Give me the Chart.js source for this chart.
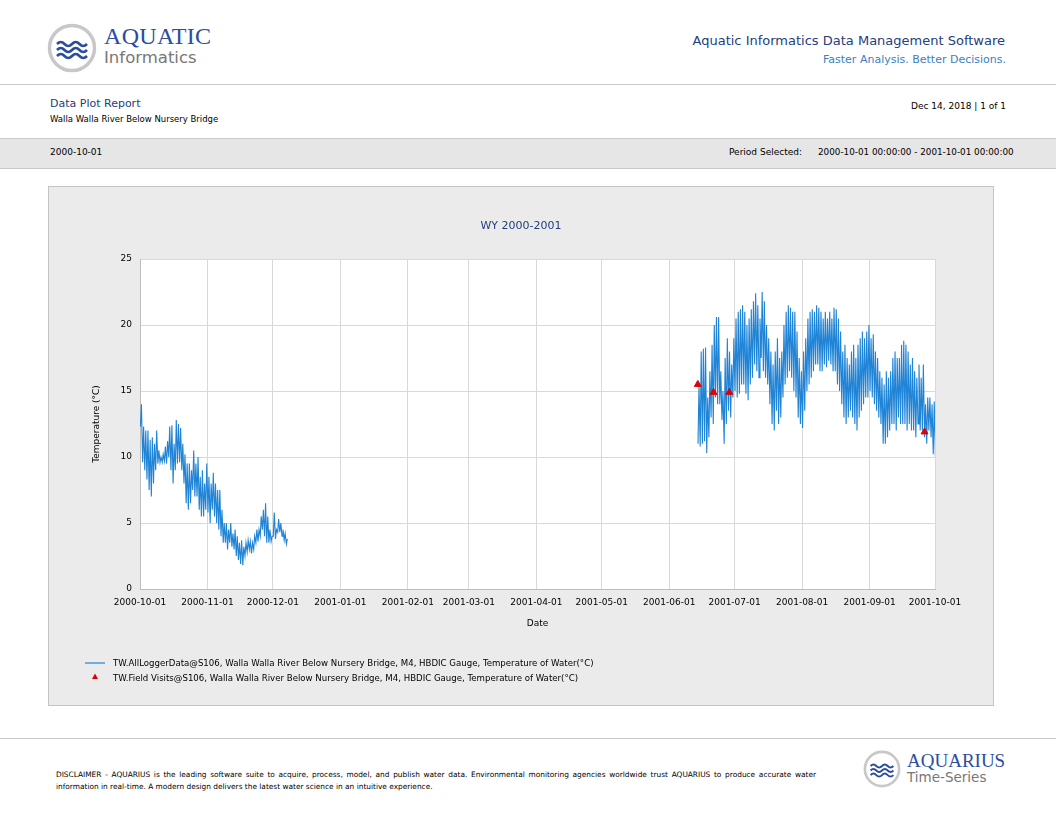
<!DOCTYPE html>
<html>
<head>
<meta charset="utf-8">
<script src="https://cdn.jsdelivr.net/npm/chart.js@4"></script>
<style>
  body { margin: 0; width: 1056px; height: 816px; position: relative; background: #fff; font-family: "DejaVu Sans", sans-serif; overflow: hidden; }
  .abs { position: absolute; white-space: nowrap; }
  .rule { position: absolute; left: 0; width: 1056px; height: 1px; background: #c8c8c8; }
  #box { position: absolute; left: 48px; top: 186px; width: 944px; height: 518px; border: 1px solid #c4c4c4; background: #ebebeb; }
  #chartWrap { position: absolute; left: 0; top: 0; width: 944px; height: 518px; }
</style>
</head>
<body>
<!-- header -->
<svg class="abs" style="left:47px;top:23px" width="50" height="50" viewBox="0 0 50 50">
  <circle cx="25" cy="25" r="22.5" fill="#fff" stroke="#c8c8c8" stroke-width="3.5"/>
  <path d="M10 21 q3.75 -4 7.5 0 t7.5 0 t7.5 0 t7.5 0" fill="none" stroke="#2c4d9e" stroke-width="2.6"/>
  <path d="M10 27 q3.75 -4 7.5 0 t7.5 0 t7.5 0 t7.5 0" fill="none" stroke="#2c4d9e" stroke-width="2.6"/>
  <path d="M10 33 q3.75 -4 7.5 0 t7.5 0 t7.5 0 t7.5 0" fill="none" stroke="#2c4d9e" stroke-width="2.6"/>
</svg>
<div class="abs" style="left:104px;top:23px;font-family:'Liberation Serif',serif;font-size:24px;color:#2c4d9e;letter-spacing:0.3px">AQUATIC</div>
<div class="abs" style="left:104px;top:48px;font-family:'DejaVu Sans',sans-serif;font-size:16.5px;color:#777">Informatics</div>
<div class="abs" style="right:51px;top:33px;font-size:13px;color:#24407f">Aquatic Informatics Data Management Software</div>
<div class="abs" style="right:50px;top:53px;font-size:11px;color:#3a7fc4">Faster Analysis. Better Decisions.</div>
<div class="rule" style="top:84px"></div>
<div class="abs" style="left:50px;top:97px;font-size:11px;color:#24407f">Data Plot Report</div>
<div class="abs" style="left:50px;top:114px;font-size:8.5px;color:#000">Walla Walla River Below Nursery Bridge</div>
<div class="abs" style="right:50px;top:101px;font-size:9px;color:#000">Dec 14, 2018 | 1 of 1</div>
<div class="abs" style="left:0;top:138px;width:1056px;height:29px;background:#e6e6e6;border-top:1px solid #c8c8c8;border-bottom:1px solid #c8c8c8"></div>
<div class="abs" style="left:50px;top:147px;font-size:9px;color:#000">2000-10-01</div>
<div class="abs" style="left:729px;top:147px;font-size:9px;color:#000">Period Selected:</div>
<div class="abs" style="left:818px;top:147px;font-size:8.8px;color:#000">2000-10-01 00:00:00 - 2001-10-01 00:00:00</div>

<!-- chart box -->
<div id="box">
  <div id="chartWrap"><canvas id="chart1"></canvas></div>
  <div class="abs" style="left:0;width:944px;text-align:center;top:32px;font-size:11px;color:#24407f">WY 2000-2001</div>
  <svg class="abs" style="left:35px;top:472px" width="24" height="24">
    <line x1="1" y1="4" x2="21" y2="4" stroke="#1f83d6" stroke-width="1.2"/>
    <polygon points="11,14.5 8,20 14,20" fill="#e00000"/>
  </svg>
  <div class="abs" style="left:64px;top:471px;font-size:8.6px;color:#000">TW.AllLoggerData@S106, Walla Walla River Below Nursery Bridge, M4, HBDIC Gauge, Temperature of Water(°C)</div>
  <div class="abs" style="left:64px;top:486px;font-size:8.6px;color:#000">TW.Field Visits@S106, Walla Walla River Below Nursery Bridge, M4, HBDIC Gauge, Temperature of Water(°C)</div>
</div>

<!-- footer -->
<div class="rule" style="top:738px"></div>
<div class="abs" style="left:56px;top:769px;font-size:7.4px;color:#000;line-height:12px;white-space:normal;width:760px;text-align:justify">DISCLAIMER - AQUARIUS is the leading software suite to acquire, process, model, and publish water data. Environmental monitoring agencies worldwide trust AQUARIUS to produce accurate water information in real-time. A modern design delivers the latest water science in an intuitive experience.</div>
<svg class="abs" style="left:863px;top:750px" width="38" height="38" viewBox="0 0 50 50">
  <circle cx="25" cy="25" r="22.5" fill="#fff" stroke="#c8c8c8" stroke-width="3.5"/>
  <path d="M10 21 q3.75 -4 7.5 0 t7.5 0 t7.5 0 t7.5 0" fill="none" stroke="#2c4d9e" stroke-width="2.6"/>
  <path d="M10 27 q3.75 -4 7.5 0 t7.5 0 t7.5 0 t7.5 0" fill="none" stroke="#2c4d9e" stroke-width="2.6"/>
  <path d="M10 33 q3.75 -4 7.5 0 t7.5 0 t7.5 0 t7.5 0" fill="none" stroke="#2c4d9e" stroke-width="2.6"/>
</svg>
<div class="abs" style="left:907px;top:750px;font-family:'Liberation Serif',serif;font-size:19px;color:#2c4d9e">AQUARIUS</div>
<div class="abs" style="left:907px;top:769px;font-size:13.5px;color:#777">Time-Series</div>

<script>
// days since 2000-10-01
const monthDays = [0, 31, 61, 92, 123, 151, 182, 212, 243, 273, 304, 335, 365];
const monthLabels = ['2000-10-01', '2000-11-01', '2000-12-01', '2001-01-01', '2001-02-01', '2001-03-01',
  '2001-04-01', '2001-05-01', '2001-06-01', '2001-07-01', '2001-08-01', '2001-09-01', '2001-10-01'];

// fall 2000 logger record, daily min / max, starting day 0
const fallStart = 0;
const fallMin = [12.3, 9.6, 9.0, 8.3, 7.5, 7.0, 8.0, 9.0, 9.5, 9.6, 9.6, 9.7, 9.5, 10.0, 9.0, 8.0, 9.0, 9.5, 9.6, 9.0,
  8.0, 6.5, 6.0, 6.5, 7.5, 7.0, 7.0, 6.0, 5.5, 5.5, 6.0, 5.8, 5.0, 6.0, 5.5, 5.0, 4.5, 4.0, 3.5, 3.5,
  3.0, 3.5, 3.2, 3.0, 2.5, 2.2, 1.9, 1.8, 2.5, 2.8, 3.0, 2.7, 3.0, 3.5, 3.6, 4.0, 4.5, 4.0, 3.5, 3.5,
  3.6, 4.0, 3.8, 4.3, 4.3, 4.0, 3.7, 3.4];
const fallMax = [14.0, 12.3, 12.0, 12.0, 11.3, 11.5, 11.0, 12.0, 10.5, 10.0, 10.2, 10.8, 11.2, 12.3, 12.4, 11.0, 12.8, 12.5, 12.2, 11.0,
  10.2, 9.5, 9.5, 9.0, 10.5, 9.5, 10.0, 8.5, 9.0, 8.0, 9.5, 8.5, 8.0, 8.8, 8.0, 7.5, 7.5, 6.0, 5.0, 5.0,
  4.5, 5.0, 4.2, 4.5, 4.0, 3.5, 3.7, 3.2, 3.5, 3.7, 3.6, 3.5, 4.0, 4.5, 4.5, 5.5, 6.0, 6.5, 5.5, 4.5,
  4.0, 5.8, 4.5, 5.3, 5.0, 4.5, 4.2, 3.8];

// summer 2001 logger record, daily min / max, starting day 256
const summerStart = 256;
const summerMin = [11.0, 10.8, 11.0, 11.2, 10.3, 11.5, 13.0, 12.5, 14.5, 14.0, 14.0, 12.8, 11.0, 12.5, 13.5, 13.0, 14.5, 15.0, 14.5, 14.8,
  15.5, 15.5, 14.8, 14.3, 15.5, 16.0, 17.0, 16.5, 16.0, 17.5, 16.5, 16.0, 15.5, 14.0, 12.5, 12.0, 13.5, 12.5, 13.0, 14.5,
  15.5, 16.0, 16.5, 16.0, 15.0, 14.5, 13.0, 12.5, 12.2, 13.5, 15.0, 15.5, 16.0, 16.5, 17.0, 17.0, 16.5, 16.5, 17.0, 16.8,
  17.3, 17.0, 16.5, 16.5, 15.5, 15.0, 14.0, 13.0, 12.5, 13.0, 13.5, 13.0, 12.5, 12.0, 13.0, 13.5, 14.0, 14.5, 14.5, 15.0,
  14.5, 14.0, 13.5, 13.0, 12.5, 11.0, 11.0, 11.5, 12.0, 12.5, 12.5, 12.0, 13.0, 12.5, 12.5, 12.5, 12.0, 12.5, 12.0, 12.0,
  11.5, 12.5, 12.0, 12.0, 11.5, 11.0, 12.0, 11.5, 10.2, 10.0];
const summerMax = [15.5, 18.0, 18.2, 18.3, 14.5, 16.5, 18.5, 20.0, 20.6, 20.6, 16.5, 15.0, 17.5, 19.0, 18.0, 17.0, 19.0, 20.5, 21.0, 21.2,
  21.5, 21.0, 20.0, 20.5, 21.2, 21.8, 22.4, 21.5, 20.5, 22.5, 21.8, 20.0, 19.0, 18.0, 17.0, 18.0, 19.0, 17.5, 18.0, 20.0,
  21.0, 21.5, 21.3, 21.0, 21.0, 19.5, 17.5, 16.5, 18.0, 19.0, 20.5, 21.0, 21.2, 21.0, 21.5, 21.3, 21.0, 20.5, 21.0, 20.5,
  21.0, 20.5, 21.3, 21.2, 20.5, 19.5, 18.0, 18.5, 17.5, 17.0, 18.0, 18.5, 17.5, 18.5, 19.0, 19.5, 19.0, 19.5, 20.0, 19.0,
  19.3, 18.0, 17.5, 16.5, 16.0, 15.5, 16.5, 16.0, 16.5, 17.5, 18.0, 17.5, 17.5, 18.5, 18.8, 18.5, 18.0, 17.0, 17.5, 16.5,
  16.0, 17.0, 16.0, 17.0, 14.0, 14.5, 14.5, 14.0, 14.2, 14.0];

// field visits
const visitDays = [256.1, 263.3, 270.6, 360.2];
const visitTemps = [15.5, 14.9, 14.9, 11.9];

function buildSeries(start, mins, maxs) {
  const pts = [];
  for (let i = 0; i < mins.length; i++) {
    pts.push({ x: start + i + 0.2, y: mins[i] });
    pts.push({ x: start + i + 0.65, y: maxs[i] });
  }
  return pts;
}

const loggerPts = buildSeries(fallStart, fallMin, fallMax)
  .concat([{ x: 150, y: null }])
  .concat(buildSeries(summerStart, summerMin, summerMax));
const visitPts = visitDays.map((d, i) => ({ x: d, y: visitTemps[i] }));

const plotBg = {
  id: 'plotBg',
  beforeDraw(chart) {
    const a = chart.chartArea, ctx = chart.ctx;
    ctx.save();
    ctx.fillStyle = '#ffffff';
    ctx.fillRect(a.left, a.top, a.right - a.left, a.bottom - a.top);
    ctx.restore();
  }
};

const tickFont = { family: 'DejaVu Sans', size: 9 };

new Chart(document.getElementById('chart1').getContext('2d'), {
  type: 'line',
  data: {
    datasets: [{
      label: 'Logger',
      data: loggerPts,
      order: 2,
      borderColor: '#1f83d6',
      borderWidth: 1.1,
      pointRadius: 0,
      spanGaps: false,
      tension: 0
    }, {
      label: 'Field Visits',
      data: visitPts,
      order: 1,
      showLine: false,
      pointStyle: 'triangle',
      pointRadius: 4,
      backgroundColor: '#e00000',
      borderColor: '#e00000'
    }]
  },
  plugins: [plotBg],
  options: {
    responsive: true,
    maintainAspectRatio: false,
    animation: false,
    layout: { padding: { left: 38, right: 58, top: 72, bottom: 72 } },
    plugins: { legend: { display: false }, tooltip: { enabled: false } },
    scales: {
      x: {
        type: 'linear',
        min: 0,
        max: 365,
        afterBuildTicks(scale) { scale.ticks = monthDays.map(v => ({ value: v })); },
        afterFit(scale) { scale.height = 44; },
        ticks: {
          color: '#000', font: tickFont, maxRotation: 0, autoSkip: false, padding: 8,
          callback: (v) => monthLabels[monthDays.indexOf(v)]
        },
        grid: { color: '#d9d9d9', drawTicks: false },
        border: { color: '#bdbdbd' },
        title: { display: true, text: 'Date', color: '#000', font: tickFont }
      },
      y: {
        min: 0,
        max: 25,
        afterFit(scale) { scale.width = 53; },
        ticks: { stepSize: 5, color: '#000', font: tickFont, padding: 8 },
        grid: { color: '#d9d9d9', drawTicks: false },
        border: { color: '#bdbdbd' },
        title: { display: true, text: 'Temperature (°C)', color: '#000', font: tickFont }
      }
    }
  }
});
</script>
</body>
</html>
